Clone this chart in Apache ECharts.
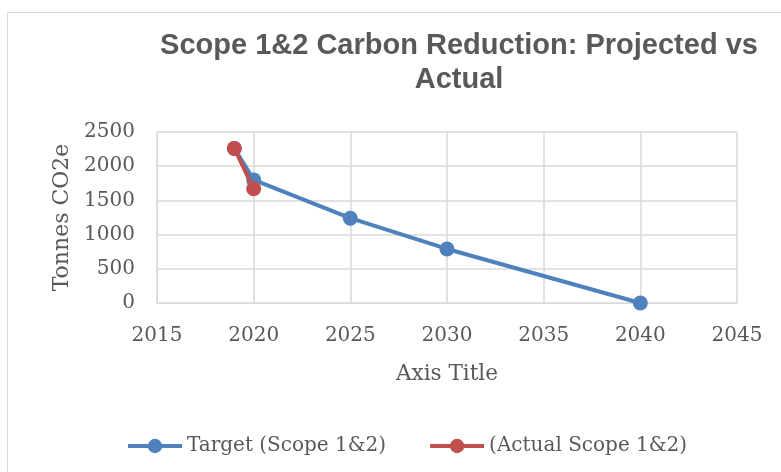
<!DOCTYPE html>
<html>
<head>
<meta charset="utf-8">
<script src="https://cdn.jsdelivr.net/npm/echarts@6/dist/echarts.min.js"></script>
<style>html,body{margin:0;padding:0;background:#fff;}#c{width:781px;height:472px;}</style>
</head>
<body>
<div id="c"></div>
<script>
const titleText = 'Scope 1&2 Carbon Reduction: Projected vs\nActual';
const targetName = 'Target (Scope 1&2)';
const actualName = '(Actual Scope 1&2)';
const targetYears = [2019, 2020, 2025, 2030, 2040];
const targetValues = [2260, 1800, 1240, 790, 0];
const actualYears = [2019, 2020];
const actualValues = [2260, 1670];
const xMin = 2015, xMax = 2045, xStep = 5;
const yMin = 0, yMax = 2500, yStep = 500;

const serif = 'DejaVu Serif';
const txt = '#595959';
const chart = echarts.init(document.getElementById('c'), null, {renderer: 'canvas'});
chart.setOption({
  animation: false,
  backgroundColor: '#fff',
  graphic: [{
    type: 'rect', shape: {x: 7.5, y: 12.5, width: 800, height: 480},
    style: {fill: 'none', stroke: '#d9d9d9', lineWidth: 1}, z: -1
  }],
  title: {
    text: titleText, left: 459, top: 29, textAlign: 'center', padding: 0,
    textStyle: {fontFamily: 'Liberation Sans', fontWeight: 'bold', fontSize: 29, color: txt, lineHeight: 34}
  },
  grid: {left: 157, right: 44, top: 132, bottom: 169},
  legend: {
    left: 121, top: 431, itemWidth: 54, itemHeight: 18, itemGap: 42,
    lineStyle: {width: 4},
    textStyle: {fontFamily: serif, fontSize: 20, color: txt},
    data: [targetName, actualName]
  },
  xAxis: {
    type: 'value', min: xMin, max: xMax, interval: xStep,
    name: 'Axis Title', nameLocation: 'middle', nameGap: 60,
    nameTextStyle: {fontFamily: serif, fontSize: 21.5, color: txt},
    axisLine: {show: true, lineStyle: {color: '#d9d9d9'}},
    axisTick: {show: false},
    splitLine: {show: true, lineStyle: {color: '#d9d9d9', width: 1.5}},
    axisLabel: {fontFamily: serif, fontSize: 20, color: txt, margin: 23, formatter: v => String(v)}
  },
  yAxis: {
    type: 'value', min: yMin, max: yMax, interval: yStep,
    name: 'Tonnes CO2e', nameLocation: 'middle', nameGap: 84, nameRotate: 90,
    nameTextStyle: {fontFamily: serif, fontSize: 22, color: txt},
    axisLine: {show: true, lineStyle: {color: '#d9d9d9'}},
    axisTick: {show: false},
    splitLine: {show: true, lineStyle: {color: '#d9d9d9', width: 1.5}},
    axisLabel: {fontFamily: serif, fontSize: 20, color: txt, margin: 22, formatter: v => String(v)}
  },
  series: [
    {
      name: targetName, type: 'line', symbol: 'circle', symbolSize: 15,
      data: targetYears.map((y, i) => [y, targetValues[i]]),
      lineStyle: {color: '#4f81bd', width: 4}, itemStyle: {color: '#4f81bd'}, z: 2
    },
    {
      name: actualName, type: 'line', symbol: 'circle', symbolSize: 15,
      data: actualYears.map((y, i) => [y, actualValues[i]]),
      lineStyle: {color: '#c0504d', width: 4}, itemStyle: {color: '#c0504d'}, z: 3
    }
  ]
});
</script>
</body>
</html>
